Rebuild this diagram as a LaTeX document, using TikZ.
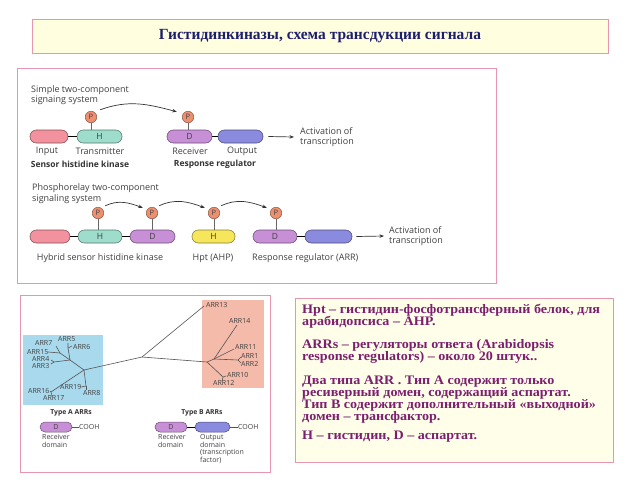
\documentclass[tikz,border=0pt]{standalone}
\usepackage{fontspec}
\setmainfont{Liberation Serif}
\newfontfamily\lab{Open Sans}
\usetikzlibrary{arrows.meta}
\definecolor{pinkb}{HTML}{E895B0}
\definecolor{titlefill}{HTML}{FFFFE0}
\definecolor{navy}{HTML}{1E1E6E}
\definecolor{purp}{HTML}{7B1F6E}
\definecolor{inpink}{HTML}{F2929E}
\definecolor{hteal}{HTML}{9EDCCB}
\definecolor{dpurp}{HTML}{C78FD6}
\definecolor{outblue}{HTML}{8A8BDF}
\definecolor{hyel}{HTML}{F6E65C}
\definecolor{porange}{HTML}{EE9070}
\definecolor{boxblue}{HTML}{A9D9EC}
\definecolor{boxsalmon}{HTML}{F4BAAA}
\definecolor{labgray}{HTML}{404040}
\definecolor{treeg}{HTML}{555555}
\tikzset{
  panelline/.style={draw=pinkb, line width=1pt},
  dom/.style={draw=#1!55!black, fill=#1, line width=0.6pt, rounded corners=6.4pt,
    minimum height=13pt, inner sep=0pt, font=\lab\fontsize{8.5}{9}\selectfont, text=labgray},
  sdom/.style={draw=#1!55!black, fill=#1, line width=0.5pt, rounded corners=5pt,
    minimum height=10pt, inner sep=0pt, font=\lab\fontsize{7}{7}\selectfont, text=labgray},
  pc/.style={circle, draw=porange!60!black, fill=porange, line width=0.5pt, minimum size=11.5pt,
    inner sep=0pt, font=\lab\fontsize{7.5}{7.5}\selectfont, text=black!75},
  stem/.style={draw=black!60, line width=0.6pt},
  link/.style={draw=black, line width=1.3pt},
  carrow/.style={draw=black!80, line width=0.7pt, -{Stealth[length=4.5pt,width=3.5pt]}},
  sarrow/.style={draw=black!80, line width=0.7pt, -{Stealth[length=4.5pt,width=3.5pt]}},
  labt/.style={inner sep=0pt, text=labgray, font=\lab\fontsize{9}{10.5}\selectfont, align=left},
  labb/.style={inner sep=0pt, text=black!80, font=\lab\bfseries\fontsize{8.5}{10}\selectfont, align=left},
  arrl/.style={inner sep=0pt, text=labgray, font=\lab\fontsize{7}{8}\selectfont, anchor=west},
  sml/.style={inner sep=0pt, text=labgray, font=\lab\fontsize{7}{7.6}\selectfont, align=left},
  smlb/.style={inner sep=0pt, text=black!80, font=\lab\bfseries\fontsize{6.8}{7.6}\selectfont},
  tree/.style={draw=treeg, line width=0.6pt},
  rtext/.style={anchor=west, inner sep=0pt, text=purp, font=\bfseries\fontsize{13}{14}\selectfont},
}
\newcommand{\widetxt}[1]{\scalebox{1.085}[1]{#1}}
\begin{document}
\begin{tikzpicture}[x=1pt,y=-1pt]
\useasboundingbox (0,0) rectangle (640,480);
\fill[white] (0,0) rectangle (640,480);

% title
\node[draw=pinkb, fill=titlefill, line width=1pt, minimum width=576pt, minimum height=34pt,
  inner sep=0pt, text=navy, font=\bfseries\fontsize{15.5}{16}\selectfont] (title) at (320,36)
  {Гистидинкиназы, схема трансдукции сигнала};

% top panel
\draw[panelline] (17,68) rectangle (496,283);

% simple two-component
\node[labt, anchor=west] (s1) at (31,95) {Simple two-component\\signaing system};
\node[dom=inpink, minimum width=38pt] (in1) at (49,136.5) {};
\node[dom=hteal, minimum width=45pt] (h1) at (99.5,136.5) {H};
\node[dom=dpurp, minimum width=45pt] (d1) at (189.5,136.5) {D};
\node[dom=outblue, minimum width=45pt] (o1) at (240.5,136.5) {};
\draw[link] (in1.east) -- (h1.west);
\draw[link] (d1.east) -- (o1.west);
\node[pc] (p1) at (91,117) {P};
\node[pc] (p2) at (188,117) {P};
\draw[stem] (p1.south) -- (p1.south |- h1.north);
\draw[stem] (p2.south) -- (p2.south |- d1.north);
\draw[carrow] ([xshift=5pt,yshift=3pt]p1.north east) to[out=20,in=165] ([xshift=-7pt,yshift=1pt]p2.north west);
\node[labt] (lin) at (47,151) {Input};
\node[labt] (ltr) at (100,151) {Transmitter};
\node[labb] (lshk) at (80,164) {Sensor histidine kinase};
\node[labt] (lrec) at (190,151) {Receiver};
\node[labt] (lout) at (242,151) {Output};
\node[labb] (lrr) at (215,164) {Response regulator};
\node[labt, anchor=west] (act1) at (300,137) {Activation of\\transcription};
\draw[sarrow] ([xshift=5pt]o1.east) -- ([xshift=-6pt]act1.west);

% phosphorelay
\node[labt, anchor=west] (s2) at (32,193.5) {Phosphorelay two-component\\signaling system};
\node[dom=inpink, minimum width=40pt] (in2) at (50,236.5) {};
\node[dom=hteal, minimum width=44pt] (h2) at (100,236.5) {H};
\node[dom=dpurp, minimum width=45pt] (d2) at (152.5,236.5) {D};
\node[dom=hyel, minimum width=43pt] (h3) at (213.5,236.5) {H};
\node[dom=dpurp, minimum width=44pt] (d3) at (275,236.5) {D};
\node[dom=outblue, minimum width=47pt] (o3) at (328.5,236.5) {};
\draw[link] (in2.east) -- (h2.west);
\draw[link] (h2.east) -- (d2.west);
\draw[link] (d3.east) -- (o3.west);
\node[pc] (q1) at (98,213) {P};
\node[pc] (q2) at (152,213) {P};
\node[pc] (q3) at (214,213) {P};
\node[pc] (q4) at (276,213) {P};
\draw[stem] (q1.south) -- (q1.south |- h2.north);
\draw[stem] (q2.south) -- (q2.south |- d2.north);
\draw[stem] (q3.south) -- (q3.south |- h3.north);
\draw[stem] (q4.south) -- (q4.south |- d3.north);
\draw[carrow] ([xshift=3pt,yshift=3pt]q1.north east) to[out=25,in=160] ([xshift=-5pt,yshift=1pt]q2.north west);
\draw[carrow] ([xshift=3pt,yshift=3pt]q2.north east) to[out=25,in=160] ([xshift=-5pt,yshift=1pt]q3.north west);
\draw[carrow] ([xshift=3pt,yshift=3pt]q3.north east) to[out=25,in=160] ([xshift=-5pt,yshift=1pt]q4.north west);
\node[labt] (lhyb) at (100,258) {Hybrid sensor histidine kinase};
\node[labt] (lhpt) at (213,258) {Hpt (AHP)};
\node[labt, anchor=west] (larr) at (252,258) {Response regulator (ARR)};
\node[labt, anchor=west] (act2) at (389,236) {Activation of\\transcription};
\draw[sarrow] ([xshift=4pt]o3.east) -- ([xshift=-5pt]act2.west);

% bottom-left panel
\draw[panelline] (20,295) rectangle (270,472);
\fill[boxblue] (23,335) rectangle (103,405);
\fill[boxsalmon] (202,300) rectangle (264,388);

% tree
\coordinate (C) at (142,357);
\coordinate (R) at (207,362);
\coordinate (R2) at (214,359);
\coordinate (A) at (84,370);
\coordinate (B) at (70,360);
\coordinate (Cn) at (60,353);
\coordinate (D5) at (68,348);
\coordinate (F) at (54,362);
\coordinate (G) at (51,392);
\coordinate (H) at (86,386);
\coordinate (Rf) at (238,360);
\coordinate (R10) at (223,377);
\draw[tree] (C) -- (204,306);
\draw[tree] (C) -- (R) -- (R2);
\draw[tree] (R2) -- (237,325);
\draw[tree] (R2) -- (234,349);
\draw[tree] (R2) -- (Rf) -- (241,357);
\draw[tree] (Rf) -- (241,363);
\draw[tree] (R) -- (R10) -- (226,376);
\draw[tree] (R10) -- (222,381);
\draw[tree] (C) -- (A);
\draw[tree] (A) -- (B) -- (Cn) -- (56,346);
\draw[tree] (Cn) -- (48,352);
\draw[tree] (B) -- (D5) -- (68,343);
\draw[tree] (D5) -- (72,346);
\draw[tree] (B) -- (F) -- (51,360);
\draw[tree] (F) -- (51,364);
\draw[tree] (A) -- (G) -- (50,391);
\draw[tree] (G) -- (52,396);
\draw[tree] (A) -- (H) -- (81,387);
\draw[tree] (H) -- (86,390);

\node[arrl] (a7) at (35,343) {ARR7};
\node[arrl] (a5) at (58,339.5) {ARR5};
\node[arrl] (a6) at (73,347) {ARR6};
\node[arrl] (a15) at (27,352) {ARR15};
\node[arrl] (a4) at (32,359) {ARR4};
\node[arrl] (a3) at (32,365.5) {ARR3};
\node[arrl] (a16) at (28,391) {ARR16};
\node[arrl] (a17) at (43,398) {ARR17};
\node[arrl] (a19) at (60,387) {ARR19};
\node[arrl] (a8) at (83,392.5) {ARR8};
\node[arrl] (a13) at (206,305) {ARR13};
\node[arrl] (a14) at (229,321) {ARR14};
\node[arrl] (a11) at (235,347) {ARR11};
\node[arrl] (a1) at (241,356) {ARR1};
\node[arrl] (a2) at (241,364) {ARR2};
\node[arrl] (a10) at (227,375) {ARR10};
\node[arrl] (a12) at (213,383) {ARR12};

% ARR domain types
\node[smlb] (ta) at (71,413) {Type A ARRs};
\node[smlb] (tb) at (202,413) {Type B ARRs};
\node[sdom=dpurp, minimum width=32pt] (ad) at (56,427) {D};
\node[sml, anchor=west] (acooh) at (79,427) {COOH};
\draw[tree] (ad.east) -- (acooh.west);
\node[sml, anchor=north west] (arec) at (42,434.5) {Receiver\\domain};
\node[sdom=dpurp, minimum width=32pt] (bd) at (171,427) {D};
\node[sdom=outblue, minimum width=35pt] (bo) at (212.5,427) {};
\draw[link, line width=1pt] (bd.east) -- (bo.west);
\node[sml, anchor=west] (bcooh) at (238,427) {COOH};
\draw[tree] (bo.east) -- (bcooh.west);
\node[sml, anchor=north west] (brec) at (158,434.5) {Receiver\\domain};
\node[sml, anchor=north west] (bout) at (200,434.5) {Output\\domain\\(transcription\\factor)};

% right text box
\draw[panelline, fill=titlefill!70!white] (295,298) rectangle (613,462);
\node[rtext] (t1) at (302,310) {\widetxt{Hpt – гистидин-фосфотрансферный белок, для}};
\node[rtext] (t2) at (302,322) {\widetxt{арабидопсиса – AHP.}};
\node[rtext] (t3) at (302,345) {\widetxt{ARRs – регуляторы ответа (Arabidopsis}};
\node[rtext] (t4) at (302,357) {\widetxt{response regulators) – около 20 штук..}};
\node[rtext] (t5) at (302,382) {\widetxt{Два типа ARR . Тип А содержит только}};
\node[rtext] (t6) at (302,393.5) {\widetxt{ресиверный домен, содержащий аспартат.}};
\node[rtext] (t7) at (302,405) {\widetxt{Тип В содержит дополнительный «выходной»}};
\node[rtext] (t8) at (302,417) {\widetxt{домен – трансфактор.}};
\node[rtext] (t9) at (302,437) {\widetxt{H – гистидин, D – аспартат.}};
\end{tikzpicture}
\end{document}
